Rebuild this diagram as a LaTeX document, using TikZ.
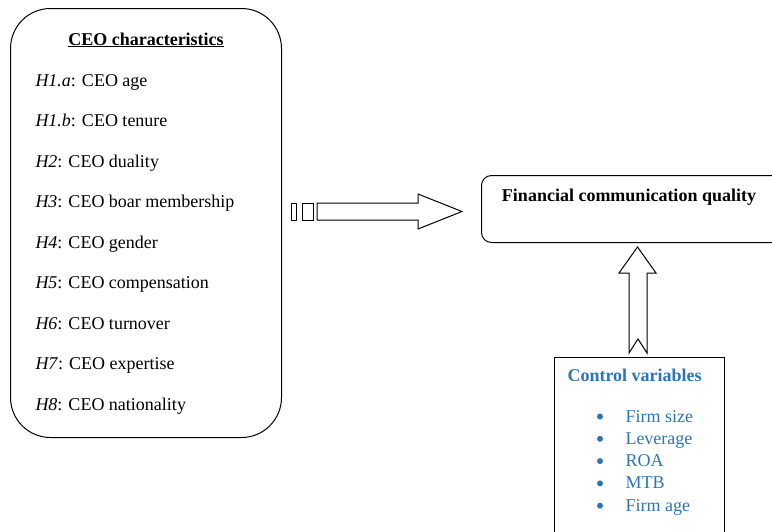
\documentclass[tikz,border=0pt]{standalone}
\usepackage{fontspec}
\setmainfont{Liberation Serif}
\definecolor{cvblue}{RGB}{46,116,181}
\begin{document}
\begin{tikzpicture}[x=1pt,y=-1pt,line width=1pt,
  txt/.style={anchor=base west,inner sep=0pt,font=\fontsize{18}{21.6}\selectfont},
  ctr/.style={anchor=base,inner sep=0pt,font=\fontsize{18}{21.6}\selectfont},
  frame/.style={draw,inner sep=0pt,anchor=north west},
  blockarrow/.style={draw,fill=white,line join=miter},
  bullet/.style={circle,fill=cvblue,inner sep=0pt,minimum size=6pt}]
\useasboundingbox (0,0) rectangle (772,531);
\clip (0,0) rectangle (772,531);
% boxes
\node[frame,rounded corners=40pt,minimum width=271pt,minimum height=429pt] (ceo) at (10,8) {};
\node[frame,rounded corners=10pt,minimum width=300pt,minimum height=67pt] (fcq) at (481,175) {};
\node[frame,minimum width=170pt,minimum height=220pt] (ctrl) at (554,357) {};
% left text
\node[ctr] (title) at (146,45) {\textbf{\underline{CEO characteristics}}};
\node[txt] (h1a) at (35,86) {\textit{H1.a}: CEO age};
\node[txt] (h1b) at (35,126.5) {\textit{H1.b}: CEO tenure};
\node[txt] (h2) at (35,167) {\textit{H2}: CEO duality};
\node[txt] (h3) at (35,207.5) {\textit{H3}: CEO boar membership};
\node[txt] (h4) at (35,248) {\textit{H4}: CEO gender};
\node[txt] (h5) at (35,288.5) {\textit{H5}: CEO compensation};
\node[txt] (h6) at (35,329) {\textit{H6}: CEO turnover};
\node[txt] (h7) at (35,369.5) {\textit{H7}: CEO expertise};
\node[txt] (h8) at (35,410) {\textit{H8}: CEO nationality};
% right text
\node[ctr] (fcqt) at (629,201) {\textbf{Financial communication quality}};
\node[txt,text=cvblue] (cvt) at (567,381) {\textbf{Control variables}};
\foreach \n/\t/\y in {c1/Firm size/422,c2/Leverage/444.3,c3/ROA/466.6,c4/MTB/488.9,c5/Firm age/511.2}{
  \node[txt,text=cvblue] (\n) at (625,\y) {\t};
  \node[bullet] (\n b) at (600,\y-5.5) {};
}
% horizontal block arrow
\draw[blockarrow] (291,203) rectangle (296,220);
\draw[blockarrow] (302,203) rectangle (313,220);
\draw[blockarrow] (317,203) -- (418,203) -- (418,194) -- (462,211.5) -- (418,229) -- (418,220) -- (317,220) -- cycle;
% vertical notched arrow
\draw[blockarrow] (637.5,247) -- (656,273) -- (647,273) -- (647,353) -- (638,339) -- (629,353) -- (629,273) -- (619,273) -- cycle;
\end{tikzpicture}
\end{document}
